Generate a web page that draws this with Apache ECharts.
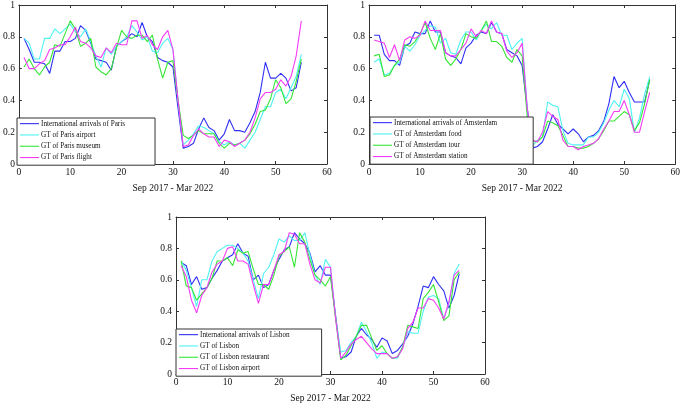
<!DOCTYPE html>
<html>
<head>
<meta charset="utf-8">
<script src="https://cdn.jsdelivr.net/npm/echarts@6/dist/echarts.min.js"></script>
<style>
html,body{margin:0;padding:0;background:#fff;}
#c{width:683px;height:404px;}
</style>
</head>
<body>
<div id="c"></div>
<script>
// ---- Data (x = month index 1..55, Sep 2017 - Mar 2022) ----
var xLabelName = 'Sep 2017 - Mar 2022';

// Paris
var parisNames = ['International arrivals of Paris','GT of Paris airport','GT of Paris museum','GT of Paris flight'];
var parisArrivals = [0.79,0.72,0.64,0.64,0.63,0.57,0.71,0.71,0.77,0.77,0.79,0.87,0.84,0.76,0.66,0.65,0.64,0.59,0.74,0.77,0.79,0.82,0.80,0.89,0.80,0.77,0.67,0.65,0.64,0.61,0.35,0.10,0.11,0.13,0.22,0.29,0.23,0.21,0.15,0.19,0.28,0.21,0.21,0.20,0.26,0.33,0.45,0.64,0.54,0.54,0.57,0.54,0.46,0.48,0.64];
var parisAirport = [0.79,0.76,0.66,0.66,0.79,0.79,0.85,0.82,0.85,0.88,0.83,0.80,0.85,0.77,0.68,0.61,0.73,0.69,0.74,0.77,0.80,0.87,0.83,0.78,0.80,0.71,0.70,0.76,0.79,0.72,0.40,0.12,0.15,0.19,0.24,0.23,0.21,0.19,0.14,0.12,0.14,0.12,0.13,0.10,0.15,0.20,0.28,0.36,0.36,0.45,0.47,0.41,0.48,0.55,0.69];
var parisMuseum = [0.61,0.66,0.60,0.56,0.61,0.64,0.75,0.74,0.82,0.90,0.85,0.74,0.76,0.79,0.61,0.58,0.56,0.60,0.73,0.84,0.80,0.79,0.81,0.81,0.77,0.81,0.66,0.54,0.64,0.65,0.40,0.18,0.16,0.18,0.21,0.19,0.19,0.19,0.13,0.10,0.13,0.12,0.13,0.15,0.19,0.25,0.33,0.34,0.41,0.53,0.48,0.38,0.41,0.52,0.66];
var parisFlight = [0.67,0.60,0.60,0.63,0.65,0.72,0.73,0.75,0.75,0.80,0.86,0.77,0.76,0.73,0.68,0.67,0.73,0.70,0.76,0.75,0.75,0.90,0.90,0.79,0.81,0.75,0.72,0.80,0.84,0.72,0.40,0.11,0.12,0.18,0.22,0.19,0.17,0.17,0.11,0.15,0.14,0.11,0.13,0.15,0.20,0.29,0.41,0.45,0.45,0.47,0.53,0.49,0.55,0.68,0.90];

// Amsterdam
var amsNames = ['International arrivals of Amsterdam','GT of Amsterdam food','GT of Amsterdam tour','GT of Amsterdam station'];
var amsArrivals = [0.81,0.81,0.69,0.65,0.65,0.62,0.74,0.76,0.83,0.82,0.82,0.90,0.83,0.83,0.70,0.68,0.67,0.63,0.73,0.76,0.81,0.83,0.82,0.89,0.83,0.82,0.72,0.70,0.68,0.62,0.35,0.10,0.11,0.14,0.22,0.31,0.25,0.22,0.19,0.22,0.19,0.14,0.17,0.18,0.21,0.27,0.38,0.55,0.48,0.52,0.45,0.39,0.39,0.39,0.53];
var amsFood = [0.64,0.66,0.56,0.57,0.62,0.64,0.74,0.71,0.75,0.81,0.84,0.87,0.86,0.76,0.79,0.70,0.69,0.78,0.83,0.83,0.78,0.84,0.88,0.85,0.89,0.81,0.81,0.72,0.76,0.79,0.35,0.11,0.15,0.17,0.39,0.37,0.36,0.21,0.13,0.12,0.12,0.12,0.17,0.17,0.20,0.26,0.34,0.40,0.36,0.47,0.41,0.20,0.29,0.44,0.55];
var amsTour = [0.68,0.69,0.55,0.56,0.62,0.66,0.75,0.74,0.77,0.82,0.89,0.79,0.72,0.82,0.66,0.62,0.66,0.72,0.82,0.80,0.79,0.84,0.90,0.77,0.77,0.74,0.67,0.64,0.72,0.68,0.30,0.14,0.14,0.17,0.27,0.26,0.24,0.18,0.11,0.11,0.10,0.10,0.11,0.13,0.16,0.21,0.27,0.27,0.30,0.33,0.31,0.21,0.26,0.38,0.53];
var amsStation = [0.78,0.77,0.76,0.67,0.75,0.65,0.78,0.80,0.79,0.81,0.90,0.84,0.84,0.84,0.70,0.68,0.68,0.72,0.76,0.85,0.80,0.84,0.82,0.90,0.83,0.82,0.71,0.67,0.70,0.76,0.35,0.15,0.14,0.20,0.33,0.30,0.28,0.15,0.11,0.11,0.09,0.11,0.12,0.13,0.16,0.22,0.27,0.33,0.33,0.40,0.31,0.20,0.20,0.33,0.45];

// Lisbon
var lisNames = ['International arrivals of Lisbon','GT of Lisbon','GT of Lisbon restaurant','GT of Lisbon airport'];
var lisArrivals = [0.71,0.69,0.57,0.62,0.54,0.55,0.61,0.66,0.72,0.74,0.76,0.83,0.77,0.75,0.60,0.63,0.55,0.57,0.66,0.73,0.79,0.81,0.90,0.86,0.83,0.77,0.65,0.69,0.63,0.63,0.37,0.10,0.11,0.14,0.24,0.29,0.25,0.22,0.17,0.23,0.21,0.13,0.15,0.19,0.24,0.32,0.43,0.56,0.55,0.62,0.57,0.53,0.42,0.50,0.64];
var lisGT = [0.72,0.66,0.55,0.43,0.60,0.60,0.72,0.78,0.80,0.82,0.82,0.80,0.77,0.72,0.60,0.48,0.64,0.68,0.76,0.86,0.84,0.88,0.85,0.85,0.90,0.76,0.63,0.57,0.73,0.68,0.36,0.14,0.15,0.20,0.24,0.33,0.27,0.20,0.10,0.14,0.13,0.10,0.10,0.17,0.27,0.26,0.26,0.40,0.49,0.50,0.48,0.35,0.45,0.64,0.70];
var lisRestaurant = [0.72,0.56,0.55,0.47,0.51,0.55,0.61,0.72,0.72,0.74,0.69,0.79,0.77,0.78,0.67,0.57,0.57,0.54,0.63,0.75,0.78,0.81,0.68,0.90,0.84,0.73,0.63,0.60,0.56,0.62,0.35,0.09,0.12,0.18,0.24,0.31,0.31,0.23,0.15,0.18,0.13,0.10,0.11,0.17,0.31,0.30,0.29,0.48,0.52,0.57,0.46,0.34,0.37,0.60,0.65];
var lisAirport = [0.69,0.62,0.47,0.39,0.50,0.55,0.65,0.70,0.72,0.80,0.81,0.72,0.72,0.70,0.57,0.45,0.57,0.57,0.66,0.76,0.78,0.90,0.89,0.83,0.83,0.70,0.60,0.58,0.68,0.68,0.35,0.10,0.14,0.19,0.22,0.24,0.20,0.16,0.13,0.13,0.13,0.10,0.11,0.16,0.29,0.33,0.42,0.42,0.48,0.47,0.42,0.35,0.46,0.63,0.66];

var colors = ['#2f2ff5','#4ff2f2','#36e636','#f53cf5'];
var FONT = '"Liberation Serif","Times New Roman",serif';

function pairs(arr){ return arr.map(function(v,i){ return [i+1, v]; }); }

var panels = [
  {names: parisNames, data:[parisArrivals,parisAirport,parisMuseum,parisFlight],
   grid:{left:17, top:5, width:310, height:159}, legend:{left:17, top:118, pr:30}},
  {names: amsNames, data:[amsArrivals,amsFood,amsTour,amsStation],
   grid:{left:369, top:5, width:310, height:159}, legend:{left:370, top:117, pr:36}},
  {names: lisNames, data:[lisArrivals,lisGT,lisRestaurant,lisAirport],
   grid:{left:176, top:217, width:309, height:158}, legend:{left:176, top:329, pr:32}}
];

var option = {backgroundColor:'#fff', animation:false, grid:[], xAxis:[], yAxis:[], series:[], legend:[]};
var axisLineStyle = {color:'#333', width:1};
panels.forEach(function(p, gi){
  option.grid.push({left:p.grid.left, top:p.grid.top, width:p.grid.width, height:p.grid.height, containLabel:false, show:false});
  // bottom x axis
  option.xAxis.push({gridIndex:gi, type:'value', min:0, max:60, interval:10, position:'bottom',
    name:xLabelName, nameLocation:'middle', nameGap:19,
    nameTextStyle:{fontFamily:FONT, fontSize:9.5, color:'#111'},
    axisLine:{show:true, onZero:false, lineStyle:axisLineStyle},
    axisTick:{show:true, inside:true, length:3, lineStyle:axisLineStyle},
    axisLabel:{fontFamily:FONT, fontSize:9.5, color:'#111', margin:3},
    splitLine:{show:false}});
  // top mirror axis
  option.xAxis.push({gridIndex:gi, type:'value', min:0, max:60, interval:10, position:'top',
    axisLine:{show:true, onZero:false, lineStyle:axisLineStyle},
    axisTick:{show:true, inside:true, length:3, lineStyle:axisLineStyle},
    axisLabel:{show:false}, splitLine:{show:false}});
  // left y axis
  option.yAxis.push({gridIndex:gi, type:'value', min:0, max:1, interval:0.2, position:'left',
    axisLine:{show:true, onZero:false, lineStyle:axisLineStyle},
    axisTick:{show:true, inside:true, length:3, lineStyle:axisLineStyle},
    axisLabel:{fontFamily:FONT, fontSize:9.5, color:'#111', margin:4},
    splitLine:{show:false}});
  // right mirror axis
  option.yAxis.push({gridIndex:gi, type:'value', min:0, max:1, interval:0.2, position:'right',
    axisLine:{show:true, onZero:false, lineStyle:axisLineStyle},
    axisTick:{show:true, inside:true, length:3, lineStyle:axisLineStyle},
    axisLabel:{show:false}, splitLine:{show:false}});
  p.names.forEach(function(n, si){
    option.series.push({type:'line', name:n, xAxisIndex:gi*2, yAxisIndex:gi*2,
      data:pairs(p.data[si]), symbol:'none', showSymbol:false, z:3,
      lineStyle:{color:colors[si], width:1.1}, itemStyle:{color:colors[si]}});
  });
  option.legend.push({data:p.names, orient:'vertical', left:p.legend.left, top:p.legend.top,
    itemGap:0, itemWidth:19, itemHeight:8, icon:'path://M0,3.5L19,3.5L19,4.6L0,4.6Z',
    backgroundColor:'#fff', borderColor:'#333', borderWidth:1, borderRadius:0,
    padding:[0, p.legend.pr, 2, 3], selectedMode:false, z:10,
    textStyle:{fontFamily:FONT, fontSize:7.2, color:'#111', lineHeight:11.3, padding:[0,0,0,-3]}});
});

var chart = echarts.init(document.getElementById('c'), null, {renderer:'canvas'});
chart.setOption(option);
</script>
</body>
</html>
